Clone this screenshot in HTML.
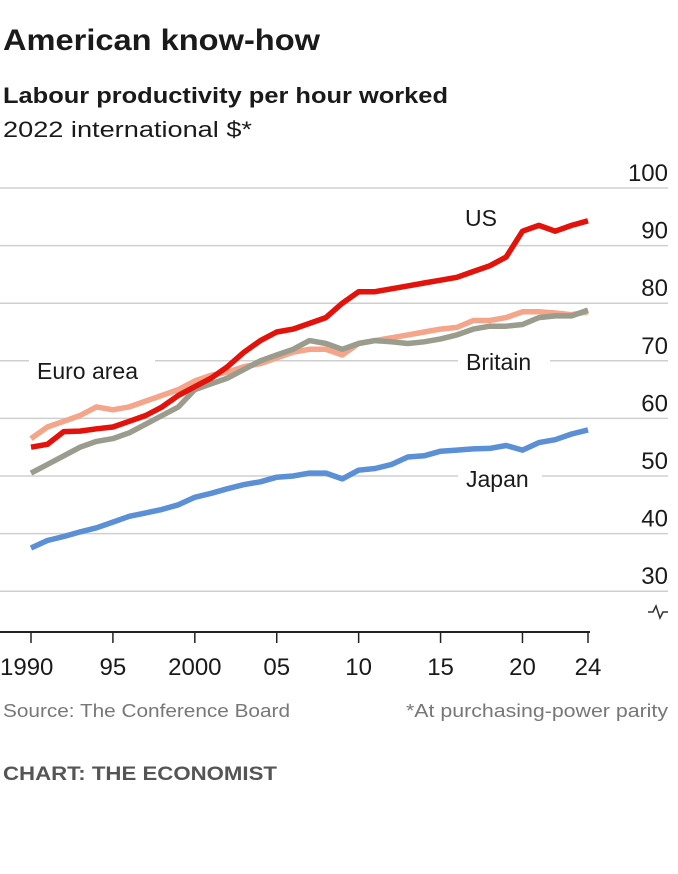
<!DOCTYPE html>
<html><head><meta charset="utf-8"><style>
html,body{margin:0;padding:0;background:#fff;}
svg{display:block;font-family:"Liberation Sans",sans-serif;}
</style></head><body>
<svg id="chart" width="678" height="874" viewBox="0 0 678 874" xmlns="http://www.w3.org/2000/svg">
<text x="3" y="50" font-size="30" font-weight="bold" fill="#1a1a1a" textLength="317" lengthAdjust="spacingAndGlyphs">American know-how</text>
<text x="3" y="103" font-size="22" font-weight="bold" fill="#1a1a1a" textLength="445" lengthAdjust="spacingAndGlyphs">Labour productivity per hour worked</text>
<text x="3" y="137" font-size="22" fill="#1a1a1a" textLength="249" lengthAdjust="spacingAndGlyphs">2022 international $*</text>
<g id="grid"></g>
<g id="series"></g>
<g id="labels"></g>
<g id="xaxis"></g>
<path d="M648 612 L653 612 L656 606 L660 618 L663 612 L668 612" stroke="#333" stroke-width="1.5" fill="none"/>
<text x="3" y="717" font-size="18" fill="#777" textLength="287" lengthAdjust="spacingAndGlyphs">Source: The Conference Board</text>
<text x="668" y="717" font-size="18" fill="#777" text-anchor="end" textLength="262" lengthAdjust="spacingAndGlyphs">*At purchasing-power parity</text>
<text x="3" y="780" font-size="19" font-weight="bold" fill="#555" textLength="274" lengthAdjust="spacingAndGlyphs">CHART: THE ECONOMIST</text>
</svg>
<script>
const years = [1990,1991,1992,1993,1994,1995,1996,1997,1998,1999,2000,2001,2002,2003,2004,2005,2006,2007,2008,2009,2010,2011,2012,2013,2014,2015,2016,2017,2018,2019,2020,2021,2022,2023,2024];
const usValues = [55,55.5,57.7,57.8,58.2,58.5,59.5,60.5,62,64,65.5,67,69,71.5,73.5,75,75.5,76.5,77.5,80,82,82,82.5,83,83.5,84,84.5,85.5,86.5,88,92.5,93.5,92.5,93.5,94.3];
const euroValues = [56.5,58.5,59.5,60.5,62,61.5,62,63,64,65,66.5,67.5,68,69,69.5,70.5,71.5,72,72,71,73,73.5,74,74.5,75,75.5,75.8,77,77,77.5,78.5,78.5,78.3,78,78.5];
const britainValues = [50.5,52,53.5,55,56,56.5,57.5,59,60.5,62,65,66,67,68.5,70,71,72,73.5,73,72,73,73.5,73.3,73,73.3,73.8,74.5,75.5,76,76,76.3,77.5,77.8,77.8,78.8];
const japanValues = [37.5,38.8,39.5,40.3,41,42,43,43.6,44.2,45,46.3,47,47.8,48.5,49,49.8,50,50.5,50.5,49.5,51,51.3,52,53.3,53.5,54.3,54.5,54.7,54.8,55.3,54.5,55.8,56.3,57.3,58];
const yTicks = [30,40,50,60,70,80,90,100];
const xTickYears = [1990,1995,2000,2005,2010,2015,2020,2024];
const xTickLabels = ["1990","95","2000","05","10","15","20","24"];

const NS="http://www.w3.org/2000/svg";
function xs(yr){return 31+(yr-1990)*(557/34);}
function ys(v){return 188+(100-v)*5.76;}
function mk(tag,attrs,parent){const e=document.createElementNS(NS,tag);for(const k in attrs)e.setAttribute(k,attrs[k]);parent.appendChild(e);return e;}

const grid=document.getElementById('grid');
yTicks.forEach(v=>{
  const l=mk('line',{x1:0,x2:668,y1:ys(v),y2:ys(v),stroke:'#cfcfcf','stroke-width':1.5},grid);
  
  
  const t=mk('text',{x:668,y:ys(v)-7,'font-size':24,fill:'#1a1a1a','text-anchor':'end'},grid);
  
  
  t.textContent=v;
});

const series=document.getElementById('series');
function drawLine(vals,color,name){
  const d=vals.map((v,i)=>(i?'L':'M')+xs(years[i]).toFixed(1)+' '+ys(v).toFixed(1)).join(' ');
  const p=mk('path',{d:d,stroke:color,'stroke-width':5.5,fill:'none','stroke-linejoin':'round'},series);
  
  
}
drawLine(japanValues,'#5b8fd6','line-japan');
drawLine(euroValues,'#f4a58a','line-euro-area');
drawLine(britainValues,'#9a9d8e','line-britain');
drawLine(usValues,'#e3120b','line-us');

const labels=document.getElementById('labels');
function lab(txt,x,y,name,bgw){
  if(bgw){const r=mk('rect',{x:x-8,y:y-20,width:bgw,height:26,fill:'#fff'},labels);
    
    }
  const t=mk('text',{x:x,y:y,'font-size':23,fill:'#1a1a1a'},labels);
  
  
  t.textContent=txt;
}
lab('US',465,226,'label-us',0);
lab('Euro area',37,379,'label-euro-area',126);
lab('Britain',466,370,'label-britain',92);
lab('Japan',466,487,'label-japan',84);
labels.parentNode.insertBefore(labels,series);
labels.parentNode.insertBefore(grid,labels);

const xa=document.getElementById('xaxis');
const ax=mk('line',{x1:0,x2:590,y1:632,y2:632,stroke:'#222','stroke-width':2},xa);


xTickYears.forEach((yr,i)=>{
  const tk=mk('line',{x1:xs(yr),x2:xs(yr),y1:632,y2:643,stroke:'#222','stroke-width':1.5},xa);
  
  
  const t=mk('text',{x:i===0?0:xs(yr),y:675,'font-size':24,fill:'#1a1a1a','text-anchor':i===0?'start':'middle'},xa);
  
  
  t.textContent=xTickLabels[i];
});
</script>
</body></html>
